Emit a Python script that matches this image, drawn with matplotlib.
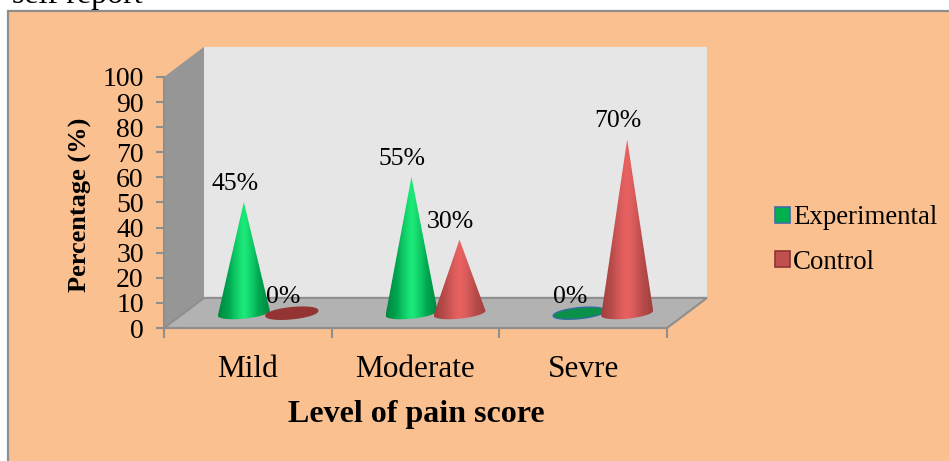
import numpy as np
import matplotlib
matplotlib.use("Agg")
import matplotlib.pyplot as plt
from matplotlib.colors import LinearSegmentedColormap
from matplotlib.patches import Patch, Polygon, Rectangle

plt.rcParams["font.family"] = ["Liberation Serif", "DejaVu Serif"]

categories = ["Mild", "Moderate", "Sevre"]
experimental = [45, 55, 0]
control = [0, 30, 70]
yticks = list(range(0, 101, 10))

W, H = 949, 461
PEACH = "#FBC08F"
EDGE = "#8E8E8E"

fig = plt.figure(figsize=(W / 100, H / 100), dpi=100, facecolor="white")
fig.add_artist(Rectangle((8 / W, -0.01), 1.0, (H - 11) / H + 0.01, transform=fig.transFigure,
                         facecolor=PEACH, edgecolor=EDGE, linewidth=1.6, zorder=-1))
fig.text(12 / W, 1 - 3 / H, "self report", fontsize=23, ha="left", va="baseline")

ax = fig.add_axes([164 / W, (H - 328) / H, 503 / W, 251 / H])
ax.patch.set_visible(False)

# depth of the fake 3d box, in data units
dx = 40 / (503 / 3)
dy = 12
base = 5.2
ring = 5.9
half_w = 26 / (503 / 3)
off = 24 / (503 / 3)
tilt = 1.0
ry = 2.2

# walls and floor
ax.add_patch(Polygon([(dx, dy), (3 + dx, dy), (3 + dx, 100 + dy), (dx, 100 + dy)], closed=True,
                     facecolor="#E6E6E6", edgecolor="none", clip_on=False, zorder=1))
ax.add_patch(Polygon([(0, 0), (dx, dy), (dx, 100 + dy), (0, 100)], closed=True,
                     facecolor="#969696", edgecolor="none", clip_on=False, zorder=1))
ax.add_patch(Polygon([(0, 0), (3, 0), (3 + dx, dy), (dx, dy)], closed=True,
                     facecolor="#B2B2B2", edgecolor=EDGE, linewidth=1.5, clip_on=False, zorder=1))


def base_curve(cx, t):
    return cx + half_w * np.cos(t), ring + ry * np.sin(t) + tilt * np.cos(t)


def cone(cx, value, cmap, flat, rim):
    if value == 0:
        x, y = base_curve(cx, np.linspace(0, 2 * np.pi, 80))
        ax.fill(x, y, facecolor=flat, edgecolor=rim, linewidth=1.0, zorder=3)
        return
    x, y = base_curve(cx, np.linspace(np.pi, 2 * np.pi, 40))
    pts = list(zip(x, y)) + [(cx, base + value)]
    shape = Polygon(pts, closed=True, facecolor="none", edgecolor="none", zorder=4)
    ax.add_patch(shape)
    shade = 1 - np.abs(np.linspace(-1, 1, 200)) ** 1.3
    im = ax.imshow(shade[np.newaxis, :], cmap=cmap, aspect="auto", vmin=0, vmax=1, zorder=3,
                   extent=[cx - half_w, cx + half_w, ring - ry - tilt, base + value])
    im.set_clip_path(shape)


greens = LinearSegmentedColormap.from_list("g", ["#00863F", "#00A650", "#1CE878"])
reds = LinearSegmentedColormap.from_list("r", ["#9E3F3D", "#B94C4A", "#E86262"])

for i in range(len(categories)):
    centre = i + 0.5 + dx / 2
    cone(centre - off, experimental[i], greens, "#0A9048", "#2F6FA0")
    cone(centre + off, control[i], reds, "#943432", "#943432")
    for x, v in [(centre - off, experimental[i]), (centre + off, control[i])]:
        ax.annotate(f"{v}%", (x, base + v), xytext=(-9, 18), textcoords="offset pixels",
                    ha="center", va="center", fontsize=18.5, zorder=6, annotation_clip=False)

ax.set_xlim(0, 3)
ax.set_ylim(0, 100)
ax.set_yticks(yticks)
ax.set_xticks([0, 1, 2, 3])
ax.set_xticklabels([])
ax.set_xticks([0.5, 1.5, 2.5], categories, minor=True)
ax.tick_params(axis="x", which="major", length=7, width=1.5, color=EDGE)
ax.tick_params(axis="x", which="minor", length=0, labelsize=22.5, pad=19.5)
ax.tick_params(axis="y", length=5.5, width=1.5, color=EDGE, labelsize=20, pad=9)
for side in ["top", "right"]:
    ax.spines[side].set_visible(False)
for side in ["left", "bottom"]:
    ax.spines[side].set_color(EDGE)
    ax.spines[side].set_linewidth(1.5)
    ax.spines[side].set_zorder(2)

fig.text(416 / W, 1 - 414 / H, "Level of pain score", fontsize=23, fontweight="bold",
         ha="center", va="center")
fig.text(80 / W, 1 - 205 / H, "Percentage (%)", fontsize=19, fontweight="bold",
         rotation=90, ha="center", va="center")

handles = [Patch(facecolor="#00B050", edgecolor="#3F6FA8", linewidth=1.2, label="Experimental"),
           Patch(facecolor="#C0504D", edgecolor="#8E3533", linewidth=1.2, label="Control")]
fig.legend(handles=handles, loc="center left", bbox_to_anchor=(751 / W, 1 - 240 / H), frameon=False,
           fontsize=19.4, handlelength=0.55, handleheight=0.55, handletextpad=0.1, labelspacing=0.72)

fig.savefig("out.png", dpi=100, facecolor="white")
